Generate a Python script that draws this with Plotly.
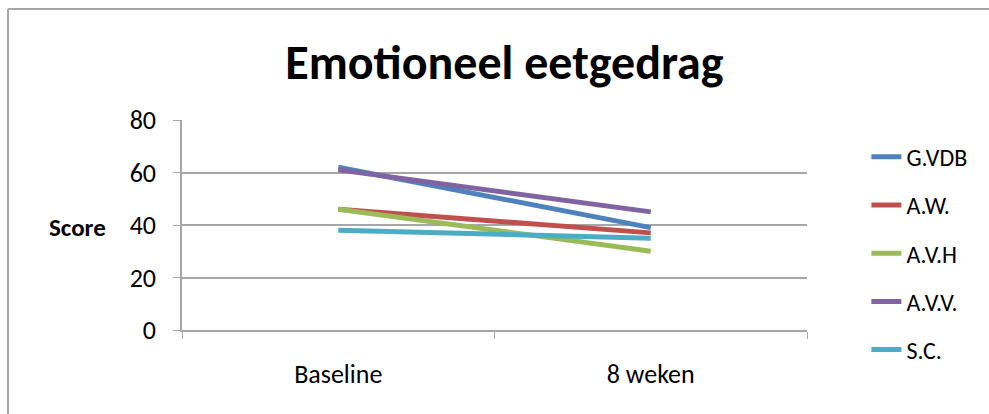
import plotly.graph_objects as go

# Meetmomenten en scores per deelnemer
momenten = ["Baseline", "8 weken"]
deelnemers = ["G.VDB", "A.W.", "A.V.H", "A.V.V.", "S.C."]
g_vdb = [62, 39]
a_w = [46, 37]
a_v_h = [46, 30]
a_v_v = [61, 45]
s_c = [38, 35]
reeksen = [g_vdb, a_w, a_v_h, a_v_v, s_c]
kleuren = ["#4F81BD", "#C0504D", "#9BBB59", "#8064A2", "#4BACC6"]

y_ticks = [0, 20, 40, 60, 80]

FONT = "Carlito, Lato, Open Sans, sans-serif"
GRID = "#A6A6A6"

fig = go.Figure()
for naam, waarden, kleur in zip(deelnemers, reeksen, kleuren):
    fig.add_trace(go.Scatter(
        x=momenten, y=waarden, name=naam, mode="lines",
        line=dict(color=kleur, width=5),
        legendgroup=naam,
    ))

# Kader rond het grafiekgebied (links en boven zichtbaar), binnen het papier
kader = [
    dict(type="line", xref="paper", yref="paper",
         x0=-0.2784, x1=-0.2784, y0=-0.4, y1=1.5286,
         line=dict(color=GRID, width=2), layer="below"),
    dict(type="line", xref="paper", yref="paper",
         x0=-0.2784, x1=1.2912, y0=1.5286, y1=1.5286,
         line=dict(color=GRID, width=2), layer="below"),
]

fig.update_layout(
    width=989, height=414,
    margin=dict(l=182, r=182, t=120, b=84),
    paper_bgcolor="white", plot_bgcolor="white",
    font=dict(family=FONT, size=26, color="black"),
    title=dict(
        text="<b>Emotioneel eetgedrag</b>",
        font=dict(family=FONT, size=48, color="black"),
        x=0.51, xanchor="center", y=0.85, yanchor="middle",
    ),
    showlegend=True,
    legend=dict(
        x=1.095, xanchor="left", y=0.93, yanchor="top",
        traceorder="grouped", tracegroupgap=14, maxheight=1000,
        font=dict(family=FONT, size=24),
        bgcolor="rgba(0,0,0,0)",
    ),
    xaxis=dict(
        type="category", range=[-0.5, 1.5],
        showline=True, linecolor=GRID, linewidth=1.5,
        ticks="outside", tickson="boundaries", ticklen=7, tickcolor=GRID,
        showgrid=False, ticklabelstandoff=20,
        tickfont=dict(family=FONT, size=26),
    ),
    yaxis=dict(
        range=[0, 80], tickvals=y_ticks,
        showline=True, linecolor=GRID, linewidth=1.5,
        ticks="outside", ticklen=7, tickcolor=GRID,
        showgrid=True, gridcolor=GRID, gridwidth=1.5,
        zeroline=False, ticklabelstandoff=12,
        tickfont=dict(family=FONT, size=26),
    ),
    annotations=[dict(
        text="<b>Score</b>", xref="paper", yref="paper",
        x=-0.168, y=0.486, xanchor="center", yanchor="middle",
        showarrow=False, font=dict(family=FONT, size=25, color="black"),
    )],
    shapes=kader,
)

fig.write_html("out.html", config={"displayModeBar": False})
